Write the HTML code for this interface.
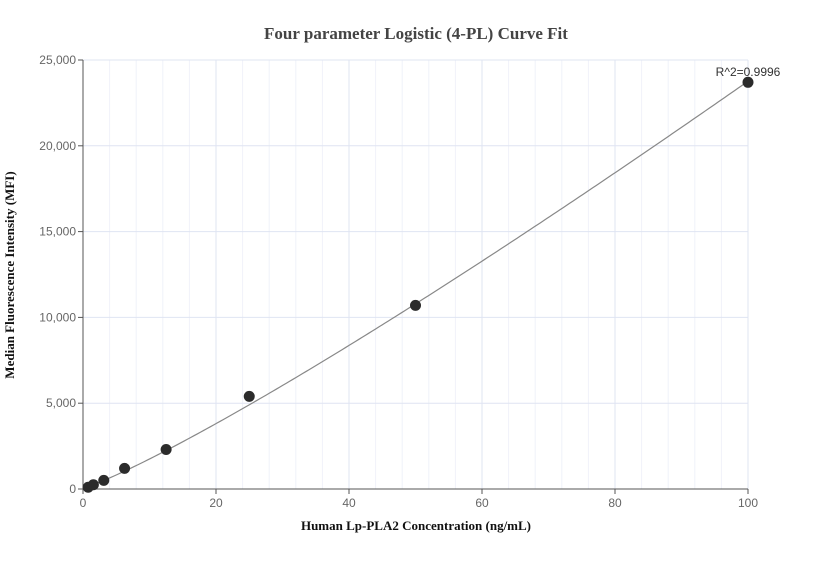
<!DOCTYPE html>
<html><head><meta charset="utf-8"><style>
body{margin:0;background:#fff;}
svg text{font-family:"Liberation Sans",sans-serif;}
</style></head><body>
<svg id="chart" width="832" height="560">
<text x="416" y="39" text-anchor="middle" font-family="Liberation Serif" font-weight="bold" font-size="17" fill="#444" style="font-family:'Liberation Serif',serif">Four parameter Logistic (4-PL) Curve Fit</text>
<g id="grid"></g>
<g id="axes"></g>
<path id="curve" fill="none" stroke="#888" stroke-width="1.2"></path>
<g id="pts"></g>
<text x="748" y="76" text-anchor="middle" font-size="12" fill="#333">R^2=0.9996</text>
<text x="416" y="530" text-anchor="middle" font-weight="bold" font-size="13" fill="#111" style="font-family:'Liberation Serif',serif">Human Lp-PLA2 Concentration (ng/mL)</text>
<text transform="translate(14,275) rotate(-90)" text-anchor="middle" font-weight="bold" font-size="13" fill="#111" style="font-family:'Liberation Serif',serif">Median Fluorescence Intensity (MFI)</text>
</svg>
<script>
const xValues=[0.78,1.56,3.125,6.25,12.5,25,50,100];
const yValues=[100,250,500,1200,2300,5400,10700,23700];
const xTicks=[0,20,40,60,80,100];
const yTicks=[0,5000,10000,15000,20000,25000];
const yTickLabels=["0","5,000","10,000","15,000","20,000","25,000"];
const fitParams=[50,1.147,10000,4690000]; // a,b,c,d
const X0=83,X1=748,Y0=489,Y1=60;
const sx=v=>X0+(v-0)/(100-0)*(X1-X0);
const sy=v=>Y0-(v-0)/(25000-0)*(Y0-Y1);
const NS="http://www.w3.org/2000/svg";
function mk(t,a,p){const e=document.createElementNS(NS,t);for(const k in a)e.setAttribute(k,a[k]);p.appendChild(e);return e;}
const grid=document.getElementById('grid'),axes=document.getElementById('axes');
for(let v=4;v<100;v+=4){if(v%20===0)continue;
const l=mk('line',{x1:sx(v),x2:sx(v),y1:Y1,y2:Y0,stroke:'#f0f2f9','stroke-width':1},grid);

}
xTicks.forEach(v=>{if(v===0)return;
const l=mk('line',{x1:sx(v),x2:sx(v),y1:Y1,y2:Y0,stroke:'#dfe4f2','stroke-width':1},grid);

});
yTicks.forEach(v=>{if(v===0)return;
const l=mk('line',{x1:X0,x2:X1,y1:sy(v),y2:sy(v),stroke:'#dfe4f2','stroke-width':1},grid);

});
const ya=mk('line',{x1:X0,x2:X0,y1:Y1,y2:Y0,stroke:'#555','stroke-width':1},axes);


const xa=mk('line',{x1:X0,x2:X1,y1:Y0,y2:Y0,stroke:'#555','stroke-width':1},axes);


xTicks.forEach(v=>{const t=mk('text',{x:sx(v),y:Y0+18,'text-anchor':'middle','font-size':12,fill:'#666'},axes);t.textContent=v;


const k=mk('line',{x1:sx(v),x2:sx(v),y1:Y0,y2:Y0+5,stroke:'#555'},axes);

});
yTicks.forEach((v,i)=>{const t=mk('text',{x:X0-7,y:sy(v)+4,'text-anchor':'end','font-size':12,fill:'#666'},axes);t.textContent=yTickLabels[i];


const k=mk('line',{x1:X0-5,x2:X0,y1:sy(v),y2:sy(v),stroke:'#555'},axes);

});
const [a,b,c,d]=fitParams;
const f=x=>d+(a-d)/(1+Math.pow(x/c,b));
let p='';for(let i=0;i<=200;i++){const x=0.78+(100-0.78)*i/200;p+=(i?'L':'M')+sx(x).toFixed(2)+','+sy(f(x)).toFixed(2);}
document.getElementById('curve').setAttribute('d',p);
const pts=document.getElementById('pts');
xValues.forEach((x,i)=>{const ci=mk('circle',{cx:sx(x),cy:sy(yValues[i]),r:5.5,fill:'#2b2b2b'},pts);

});
</script>
</body></html>
